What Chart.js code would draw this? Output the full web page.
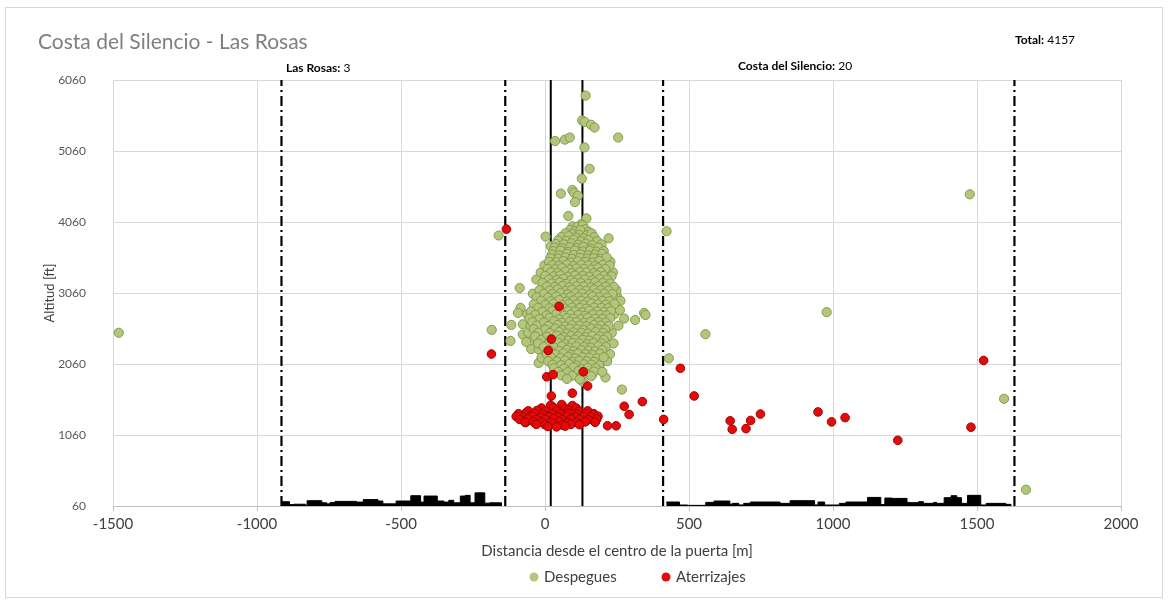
<!DOCTYPE html>
<html>
<head>
<meta charset="utf-8">
<script src="https://cdn.jsdelivr.net/npm/chart.js@4/dist/chart.umd.min.js"></script>
<style>
  html, body { margin: 0; padding: 0; background: #fff; }
  #wrap { position: relative; width: 1169px; height: 603px; }
  #frame { position: absolute; left: 5px; top: 7px; width: 1156px; height: 589px; border: 1px solid #d9d9d9; pointer-events: none; }
  canvas { position: absolute; left: 0; top: 0; }
</style>
</head>
<body>
<div id="wrap">
  <canvas id="scatterChart" width="1169" height="603"></canvas>
  <div id="frame"></div>
</div>
<script>
const COLORS = {
    green: '#b3c67c',
    greenBorder: '#839a4f',
    red: '#e30b0b',
    redBorder: '#a50000',
    grid: '#d9d9d9',
    tick: '#595959',
    text: '#404040',
    title: '#7f7f7f',
};
const FONT = 'Lato, "Open Sans", sans-serif';

// ejes
const xTicks = [-1500, -1000, -500, 0, 500, 1000, 1500, 2000];
const yTicks = [60, 1060, 2060, 3060, 4060, 5060, 6060];

// límites de zonas (punto-raya) y de la puerta (continuas)
const zonaLimites = [-915, -138, 410, 1630];
const puertaLimites = [20, 130];

// perfil de edificios, escalonado (x de inicio, altitud)
const terrenoIzqX = [-915, -887, -872, -832, -826, -775, -758, -746, -729, -654, -631, -580, -563, -517, -466, -432, -420, -374, -351, -334, -317, -294, -277, -260, -243, -209, -192, -151];
const terrenoIzqY = [120, 80, 85, 70, 135, 105, 90, 110, 125, 115, 150, 130, 90, 130, 205, 115, 200, 130, 115, 140, 105, 200, 210, 105, 245, 100, 105, 60];
const terrenoDerX = [421, 467, 495, 558, 587, 642, 650, 673, 690, 713, 816, 851, 936, 948, 971, 1022, 1045, 1120, 1166, 1180, 1205, 1257, 1268, 1297, 1314, 1349, 1360, 1386, 1410, 1430, 1446, 1467, 1513, 1532, 1600, 1618];
const terrenoDerY = [116, 74, 69, 111, 130, 85, 97, 75, 97, 116, 97, 135, 75, 116, 74, 97, 116, 181, 80, 172, 167, 111, 107, 121, 97, 111, 97, 177, 205, 177, 97, 210, 74, 97, 83, 60];

// Despegues [x, altitud]
const despegues = [
    [141,5840],[129,5490],[138,5470],[160,5430],[172,5390],[35,5200],[69,5220],[86,5250],[254,5250],[137,5110],
    [155,4810],[128,4670],[55,4460],[95,4510],[101,4470],[114,4430],[104,4340],[1475,4450],[81,4145],[144,4110],
    [126,4030],[-161,3870],[2,3855],[422,3930],[221,3830],[206,3555],[177,3640],[166,3810],[186,3760],[-88,3130],
    [-85,2850],[-94,2780],[-117,2610],[-77,2620],[-185,2540],[-1480,2500],[250,3010],[275,2700],[313,2680],[234,2880],
    [344,2780],[978,2790],[557,2480],[430,2140],[-120,2385],[-77,2475],[-40,2415],[-65,2370],[-48,2270],[-22,2265],
    [-22,2075],[267,1700],[210,1870],[189,2040],[164,1920],[132,1810],[61,1915],[38,2050],[1594,1570],[1670,290],[349,2750],
    [240,2760],[255,2600],[262,2950],[236,3350],[227,3500],[-30,3250],[-15,3350],[-2,3450],[-42,3050],[232,2500],
    [238,2350],[226,2200],[216,2100],[-12,2150],[-58,2500],[-62,2760],[248,3100],[260,2820],[-50,2600],[20,3720],
    [96,4000],[112,3990],[131,4010],[140,3960],[88,3950],[104,3930],[123,3945],[152,3920],[71,3900],[95,3890],[118,3880],[146,3875],[162,3900],
    [57,3850],[82,3860],[108,3840],[133,3830],[171,3845],
    [45,3800],[74,3795],[99,3810],[126,3790],[151,3805],[181,3790],[38,3750],[66,3745],[92,3760],[116,3740],[141,3755],[164,3735],[196,3745],
    [34,3700],[58,3690],[86,3705],[111,3695],[134,3710],[159,3685],[186,3700],[29,3650],[54,3655],[81,3640],[104,3660],[131,3645],[156,3655],[179,3640],[204,3650],
    [24,3600],[49,3590],[76,3610],[101,3595],[124,3605],[150,3590],[174,3600],[199,3610],[19,3550],[46,3545],[71,3560],[94,3540],[121,3555],[146,3545],[169,3550],[193,3540],[214,3560],
    [14,3500],[41,3495],[64,3510],[91,3490],[114,3505],[141,3500],[166,3490],[189,3510],[26,3450],[49,3445],[76,3460],[99,3440],[126,3455],[151,3450],[174,3440],[201,3455],[224,3445],
    [9,3400],[36,3395],[59,3410],[86,3390],[109,3405],[136,3400],[161,3390],[184,3410],[209,3400],
    [21,3350],[44,3345],[71,3360],[94,3340],[121,3355],[144,3350],[171,3340],[194,3355],[1,3300],[31,3295],[54,3310],[81,3290],[104,3305],[131,3300],[154,3290],[181,3310],[204,3300],[231,3295],
    [14,3250],[41,3245],[64,3260],[91,3240],[116,3255],[139,3250],[166,3240],[189,3255],[216,3250],[-9,3200],[24,3195],[51,3210],[74,3190],[101,3205],[124,3200],[151,3190],[174,3210],[201,3200],[226,3195],
    [6,3150],[34,3145],[61,3160],[84,3140],[111,3155],[134,3150],[161,3140],[184,3155],[211,3150],[239,3145],[-19,3100],[16,3095],[44,3110],[71,3090],[94,3105],[121,3100],[144,3090],[171,3110],[194,3100],[221,3095],
    [-4,3050],[26,3045],[54,3060],[79,3040],[106,3055],[129,3050],[156,3040],[179,3055],[206,3050],[234,3045],
    [-29,3000],[11,2995],[39,3010],[66,2990],[89,3005],[116,3000],[139,2990],[166,3010],[189,3000],[216,2995],[-14,2950],[21,2945],[49,2960],[76,2940],[99,2955],[126,2950],[149,2940],[176,2955],[199,2950],[224,2945],
    [-39,2900],[1,2895],[29,2910],[61,2890],[84,2905],[111,2900],[134,2890],[161,2910],[184,2900],[211,2895],[241,2905],[-24,2850],[16,2845],[44,2860],[71,2840],[94,2855],[121,2850],[144,2840],[171,2855],[196,2850],[219,2845],
    [-49,2800],[-9,2795],[26,2810],[54,2790],[81,2805],[104,2800],[131,2790],[154,2810],[181,2800],[206,2795],[229,2805],[-34,2750],[6,2745],[39,2760],[66,2740],[89,2755],[116,2750],[139,2740],[166,2755],[191,2750],[214,2745],
    [-54,2700],[-19,2695],[16,2710],[49,2690],[76,2705],[99,2700],[126,2690],[149,2710],[176,2700],[199,2695],[226,2705],
    [-44,2650],[-4,2645],[31,2660],[59,2640],[86,2655],[109,2650],[136,2640],[159,2655],[186,2650],[211,2645],[-29,2600],[11,2595],[44,2610],[71,2590],[94,2605],[121,2600],[144,2590],[171,2610],[194,2600],[221,2595],
    [-39,2550],[1,2545],[36,2560],[59,2540],[86,2555],[111,2550],[134,2540],[161,2555],[184,2550],[209,2545],[-24,2500],[16,2495],[49,2510],[76,2490],[99,2505],[126,2500],[149,2490],[176,2510],[201,2500],
    [-34,2450],[6,2445],[41,2460],[64,2440],[91,2455],[114,2450],[141,2440],[164,2455],[191,2450],[216,2445],[-14,2400],[26,2395],[54,2410],[81,2390],[104,2405],[131,2400],[154,2390],[181,2410],[204,2400],
    [-24,2350],[11,2345],[46,2360],[69,2340],[96,2355],[119,2350],[146,2340],[169,2355],[196,2350],
    [-4,2300],[31,2295],[59,2310],[86,2290],[109,2305],[136,2300],[159,2290],[186,2310],[211,2300],[16,2250],[49,2245],[76,2260],[99,2240],[126,2255],[151,2250],[174,2240],[199,2255],
    [6,2200],[36,2195],[64,2210],[91,2190],[114,2205],[141,2200],[164,2190],[191,2205],[21,2150],[54,2145],[81,2160],[104,2140],[131,2155],[154,2150],[181,2140],[204,2155],
    [11,2100],[41,2095],[69,2110],[96,2090],[119,2105],[146,2100],[171,2090],[26,2050],[56,2045],[84,2060],[109,2040],[136,2055],[161,2050],[189,2040],
    [31,2000],[66,1995],[99,2010],[126,1990],[149,2005],[176,2000],[46,1950],[79,1945],[116,1960],[139,1940],[171,1955],[199,1950],
    [56,1900],[94,1895],[129,1910],[161,1890],[76,1850],[121,1845]
];

// Aterrizajes [x, altitud]
const aterrizajes = [
    [-134,3960],[49,2870],[22,2410],[11,2250],[-186,2200],[6,1880],[28,1910],[133,1950],[148,1750],[95,1650],
    [22,1610],[338,1530],[275,1465],[292,1350],[217,1190],[247,1190],[412,1280],[470,2000],[518,1610],[643,1260],
    [650,1140],[698,1150],[714,1265],[748,1355],[948,1385],[995,1245],[1042,1305],[1225,985],[1479,1170],[1523,2110],
    [-96,1330],[-65,1375],[-67,1235],[169,1360],[175,1245],[158,1315],
    [20,1480],[58,1490],[95,1475],[-12,1440],[30,1445],[70,1435],[108,1440],[-58,1400],[-28,1405],[2,1395],[40,1400],[80,1410],[118,1395],[148,1400],
    [-92,1360],[-68,1355],[-38,1365],[-8,1350],[22,1360],[52,1355],[82,1365],[112,1350],[140,1360],[168,1355],
    [-100,1320],[-74,1315],[-44,1325],[-14,1310],[16,1320],[46,1315],[76,1325],[106,1310],[134,1320],[160,1315],[184,1325],
    [-88,1280],[-60,1285],[-30,1275],[0,1280],[30,1290],[60,1275],[90,1285],[120,1280],[150,1275],[180,1285],
    [-70,1240],[-40,1245],[-10,1235],[20,1240],[50,1250],[80,1235],[110,1240],[140,1245],[174,1240],
    [-30,1210],[0,1205],[30,1215],[60,1200],[90,1210],[120,1205],[10,1180],[40,1175],[70,1185]
];

const totalVuelos = 4157;
const zonaConteos = [
    { nombre: 'Las Rosas:', valor: 3, x: 286, y: 68 },
    { nombre: 'Costa del Silencio:', valor: 20, x: 738, y: 66 },
];

const toXY = arr => arr.map(p => ({ x: p[0], y: p[1] }));
const vertical = x => [{ x: x, y: yTicks[0] }, { x: x, y: yTicks[yTicks.length - 1] }];
const terreno = (xs, ys) => xs.map((x, i) => ({ x: x, y: ys[i] }));

const datasets = [
    {
        type: 'scatter',
        label: 'Despegues',
        data: toXY(despegues),
        backgroundColor: COLORS.green,
        borderColor: COLORS.greenBorder,
        borderWidth: 1,
        pointRadius: 4.6,
        order: 2,
    },
    {
        type: 'scatter',
        label: 'Aterrizajes',
        data: toXY(aterrizajes),
        backgroundColor: COLORS.red,
        borderColor: COLORS.redBorder,
        borderWidth: 1,
        pointRadius: 4.3,
        order: 1,
    },
];

zonaLimites.forEach(x => datasets.push({
    type: 'line', label: 'zona', data: vertical(x),
    borderColor: '#000', borderWidth: 2.2, borderDash: [10, 4, 2, 4],
    pointRadius: 0, fill: false, order: 5,
}));
puertaLimites.forEach(x => datasets.push({
    type: 'line', label: 'puerta', data: vertical(x),
    borderColor: '#000', borderWidth: 2, pointRadius: 0, fill: false, order: 5,
}));
[[terrenoIzqX, terrenoIzqY], [terrenoDerX, terrenoDerY]].forEach(t => datasets.push({
    type: 'line', label: 'terreno', data: terreno(t[0], t[1]),
    borderColor: '#000', backgroundColor: '#000', borderWidth: 1,
    stepped: 'before', fill: 'start', pointRadius: 0, order: 4,
}));

// textos: título, conteos y leyenda
const textos = {
    id: 'textos',
    afterDraw(chart) {
        const ctx = chart.ctx;
        ctx.save();
        ctx.textBaseline = 'middle';
        ctx.textAlign = 'left';
        ctx.fillStyle = COLORS.title;
        ctx.font = '21px ' + FONT;
        ctx.fillText('Costa del Silencio - Las Rosas', 38, 42);

        const par = (x, y, negrita, normal) => {
            ctx.fillStyle = '#000';
            ctx.font = 'bold 12px ' + FONT;
            ctx.fillText(negrita, x, y);
            const w = ctx.measureText(negrita).width;
            ctx.font = '12px ' + FONT;
            ctx.fillText(' ' + normal, x + w, y);
        };
        par(1015, 40, 'Total:', String(totalVuelos));
        zonaConteos.forEach(z => par(z.x, z.y, z.nombre, String(z.valor)));

        const leyenda = [
            { ds: chart.data.datasets[0], x: 534 },
            { ds: chart.data.datasets[1], x: 666 },
        ];
        leyenda.forEach(l => {
            ctx.beginPath();
            ctx.arc(l.x, 577, 4.5, 0, Math.PI * 2);
            ctx.fillStyle = l.ds.backgroundColor;
            ctx.fill();
            ctx.fillStyle = COLORS.text;
            ctx.font = '15px ' + FONT;
            ctx.fillText(l.ds.label, l.x + 10, 577);
        });
        ctx.restore();
    }
};

new Chart(document.getElementById('scatterChart'), {
    type: 'scatter',
    data: { datasets: datasets },
    options: {
        responsive: false,
        animation: false,
        layout: { padding: { left: 38, right: 48, top: 80, bottom: 39 } },
        plugins: {
            legend: { display: false },
            tooltip: { enabled: false },
        },
        scales: {
            x: {
                type: 'linear',
                min: xTicks[0],
                max: xTicks[xTicks.length - 1],
                afterBuildTicks: s => { s.ticks = xTicks.map(v => ({ value: v })); },
                afterFit: s => { s.height = 58; },
                grid: { color: COLORS.grid, tickLength: 5, tickColor: '#bfbfbf' },
                border: { color: '#bfbfbf' },
                ticks: { color: COLORS.text, font: { family: FONT, size: 15 }, padding: 4, maxRotation: 0, callback: v => String(v) },
                title: { display: true, text: 'Distancia desde el centro de la puerta [m]', color: COLORS.text, font: { family: FONT, size: 15 }, padding: 4 },
            },
            y: {
                type: 'linear',
                min: yTicks[0],
                max: yTicks[yTicks.length - 1],
                afterBuildTicks: s => { s.ticks = yTicks.map(v => ({ value: v })); },
                afterFit: s => { s.width = 75; },
                grid: { color: COLORS.grid, drawTicks: false },
                border: { display: false },
                ticks: { color: COLORS.tick, font: { family: FONT, size: 12 }, padding: 27, callback: v => String(v) },
                title: { display: true, text: 'Altitud [ft]', color: COLORS.text, font: { family: FONT, size: 13 }, padding: 4 },
            },
        },
    },
    plugins: [textos],
});
</script>
</body>
</html>
